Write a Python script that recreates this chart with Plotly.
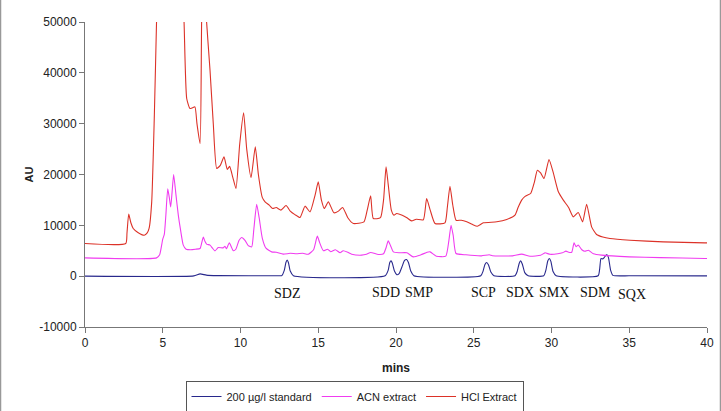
import plotly.graph_objects as go

# ---- data ----
std_t = [0, 7.0, 7.4, 7.8, 8.5, 12.6,
         12.65, 12.82, 12.92, 13.0, 13.08, 13.2, 13.4,
         19.3, 19.5, 19.6, 19.68, 19.76, 19.9, 20.05, 20.2, 20.38, 20.55, 20.68, 20.8, 20.95, 21.15,
         25.45, 25.6, 25.72, 25.83, 25.95, 26.1, 26.3,
         27.65, 27.8, 27.92, 28.01, 28.12, 28.28, 28.5,
         29.5, 29.64, 29.76, 29.86, 29.96, 30.1, 30.3,
         33.0, 33.1, 33.18, 33.3, 33.4, 33.55, 33.66, 33.8, 33.95, 35.0, 40.0]
std_v = [0, 50, 450, 200, 100, 80,
         100, 1200, 2700, 3150, 2700, 1000, 100,
         80, 1200, 2700, 3000, 2600, 1000, 300, 500, 1800, 3100, 3280, 2700, 1000, 100,
         80, 1000, 2300, 2700, 2200, 800, 80,
         80, 1000, 2500, 3000, 2400, 700, 80,
         80, 1200, 3000, 3480, 2900, 900, 80,
         80, 1500, 3450, 3400, 3700, 4250, 3700, 1200, 150, 80, 50]

acn_t = [0, 4.6, 4.8, 5.0, 5.1, 5.2, 5.32, 5.42, 5.51, 5.6, 5.7, 5.85, 6.0, 6.15, 6.32, 6.5, 6.8, 7.1,
         7.4, 7.5, 7.61, 7.72, 7.82, 8.04, 8.2, 8.36, 8.57, 8.9, 9.0, 9.1, 9.28, 9.54, 9.7, 9.9, 10.07,
         10.3, 10.5, 10.72, 10.85, 11.04, 11.2, 11.4, 11.64, 12.0, 12.3, 12.75, 13.2, 13.6, 14.0, 14.36,
         14.7, 14.94, 15.1, 15.33, 15.6, 15.8, 16.1, 16.4, 16.6, 16.9, 17.15, 17.79, 18.1, 18.37, 18.86,
         19.2, 19.35, 19.5, 19.65, 19.83, 20.2, 20.7, 21.11, 21.6, 22.0, 22.19, 22.6, 23.2, 23.4, 23.54,
         23.68, 23.86, 24.5, 25.5, 26.0, 26.2, 27.5, 28.08, 28.62, 29.3, 29.58, 29.9, 30.4, 30.7, 30.93,
         31.1, 31.3, 31.45, 31.58, 31.72, 31.95, 32.15, 32.37, 32.7, 33.22, 35.0, 37.0, 39.87, 40.0]
acn_v = [3600, 3600, 4200, 7300, 8200, 12000, 17200, 15500, 13600, 16500, 20000, 16000, 12000, 9000, 6100, 5300, 5200, 5300,
         5440, 6500, 7700, 6800, 6300, 6100, 5500, 4980, 5640, 5570, 5900, 5400, 6550, 5000, 5300, 7000, 7610,
         7000, 6000, 5760, 9000, 14160, 11500, 7500, 5500, 4780, 4700, 4330, 4500, 4400, 4500, 4330,
         5200, 7870, 6500, 5000, 5300, 4800, 5200, 4600, 5000, 4700, 4330, 4130, 4300, 4660, 4270,
         4400, 5500, 6950, 6000, 4780, 4600, 4600, 3800, 4200, 4700, 4780, 3930, 3930, 7000, 10030,
         8000, 4460, 4200, 4000, 4200, 4000, 4000, 4330, 3930, 4100, 4590, 4300, 4400, 4600, 4920,
         4700, 4700, 6550, 5800, 6100, 5200, 4900, 5110, 4400, 4130, 3800, 3650, 3480, 3480]

hcl_t = [0, 2.62, 2.7, 2.81, 2.95, 3.1, 3.4, 3.81, 4.0, 4.12, 4.29, 4.46, 4.6, 4.8, 5.2, 5.6, 6.0, 6.2, 6.37,
         6.54, 6.75, 6.9, 7.07, 7.2, 7.4, 7.5, 7.62, 7.75, 7.82, 8.04, 8.25, 8.47, 8.7, 8.94, 9.15, 9.3,
         9.5, 9.71, 9.95, 10.2, 10.4, 10.68, 10.95, 11.15, 11.4, 11.58, 11.85, 12.07, 12.3, 12.6, 12.93,
         13.2, 13.5, 13.83, 14.15, 14.47, 14.8, 15.0, 15.2, 15.39, 15.65, 16.01, 16.3, 16.57, 16.9, 17.26,
         17.94, 18.15, 18.37, 18.54, 19.0, 19.2, 19.36, 19.5, 19.7, 19.87, 20.04, 20.4, 20.7, 21.0, 21.3,
         21.76, 21.97, 22.2, 22.51, 23.15, 23.3, 23.47, 23.65, 23.86, 24.2, 24.55, 24.9, 25.23, 25.62,
         26.48, 27.12, 27.65, 27.85, 28.08, 28.3, 28.66, 28.9, 29.09, 29.3, 29.52, 29.84, 30.1, 30.44,
         30.76, 31.1, 31.4, 31.72, 32.0, 32.26, 32.58, 32.9, 33.3, 33.76, 35.05, 37.19, 39.87, 40.0]
hcl_v = [6430, 6430, 8500, 12200, 10500, 9380, 8600, 8060, 8500, 9380, 14620, 31670, 50000, 75000, 95000, 98000, 80000, 62000, 50000,
         34950, 32980, 33100, 33300, 30000, 26100, 50000, 62000, 55000, 50000, 40520, 30000, 21180, 21800, 23470, 21000, 21600,
         19500, 17250, 26000, 32130, 25000, 19410, 25440, 20000, 15500, 14620, 13970, 13310, 13500, 13000, 13900,
         12800, 12100, 11540, 13770, 12650, 16000, 18550, 15000, 13310, 14620, 12460, 12800, 13510, 11500, 10360,
         10690, 13000, 15800, 11340, 11500, 15000, 21500, 18000, 13000, 12000, 12330, 12000, 11500, 10880, 11200,
         11100, 15280, 13000, 10360, 10490, 13500, 17700, 14000, 11010, 11000, 10690, 10200, 9830, 10490,
         10690, 11150, 12000, 13500, 14950, 15700, 16260, 18500, 20850, 20300, 19210, 22950, 20500, 16590,
         14950, 13500, 11670, 12530, 10690, 14160, 9700, 8200, 7700, 7410, 7080, 6750, 6550, 6550]

series_names = ["200 µg/l standard", "ACN extract", "HCl Extract"]
series_colors = ["rgb(40,40,140)", "rgb(240,60,240)", "rgb(220,50,40)"]

peak_labels = ["SDZ", "SDD", "SMP", "SCP", "SDX", "SMX", "SDM", "SQX"]
peak_label_t = [12.99, 19.34, 21.5, 25.64, 28.0, 30.16, 32.86, 35.18]
peak_label_v = [-3500, -3300, -3300, -3300, -3300, -3300, -3300, -3550]

x_ticks = [0, 5, 10, 15, 20, 25, 30, 35, 40]
y_ticks = [-10000, 0, 10000, 20000, 30000, 40000, 50000]
y_tick_text = [str(v) for v in y_ticks]

fig = go.Figure()
for t, v, n, c in zip([std_t, acn_t, hcl_t], [std_v, acn_v, hcl_v], series_names, series_colors):
    fig.add_trace(go.Scatter(x=t, y=v, name=n, mode="lines",
                             line=dict(color=c, width=1.1, shape="spline", smoothing=0.5)))

for lab, t, v in zip(peak_labels, peak_label_t, peak_label_v):
    fig.add_annotation(x=t, y=v, text=lab, showarrow=False,
                       font=dict(family="Liberation Serif, Times New Roman, serif", size=14, color="#111"))

L, R, T, B = 85, 14, 22, 84
W, H = 721, 411
pw, ph = W - L - R, H - T - B

# side frame lines of the chart area
for px in [0.5, 720.5]:
    xp = (px - L) / pw
    fig.add_shape(type="line", xref="paper", yref="paper", x0=xp, x1=xp,
                  y0=-B / ph, y1=1 + T / ph, line=dict(color="#999", width=1.5))

axis_font = dict(family="Liberation Sans, Arial, sans-serif", size=12, color="#222")
fig.update_layout(
    width=W, height=H, margin=dict(l=L, r=R, t=T, b=B, autoexpand=False),
    paper_bgcolor="white", plot_bgcolor="white",
    showlegend=True,
    legend=dict(orientation="h", x=(354.5 - L) / pw, xanchor="center", y=(327 - 381) / ph, yanchor="top",
                bordercolor="#555", borderwidth=1,
                font=dict(family="Liberation Sans, Arial, sans-serif", size=11, color="#222"),
                itemwidth=30, tracegroupgap=0),
    xaxis=dict(range=[0, 40], tickvals=x_ticks, showgrid=False, zeroline=False,
               showline=True, linecolor="#777", linewidth=1, ticks="outside", ticklen=5, tickcolor="#777",
               tickfont=axis_font,
               title=dict(text="<b>mins</b>", font=dict(family="Liberation Sans, Arial, sans-serif", size=12, color="#222"), standoff=14)),
    yaxis=dict(range=[-10000, 50000], tickvals=y_ticks, ticktext=y_tick_text, showgrid=False, zeroline=False,
               showline=True, linecolor="#777", linewidth=1, ticks="outside", ticklen=5, tickcolor="#777",
               tickfont=axis_font,
               title=dict(text="<b>AU</b>", font=dict(family="Liberation Sans, Arial, sans-serif", size=11, color="#222"), standoff=3)),
)

fig.write_html("out.html")
